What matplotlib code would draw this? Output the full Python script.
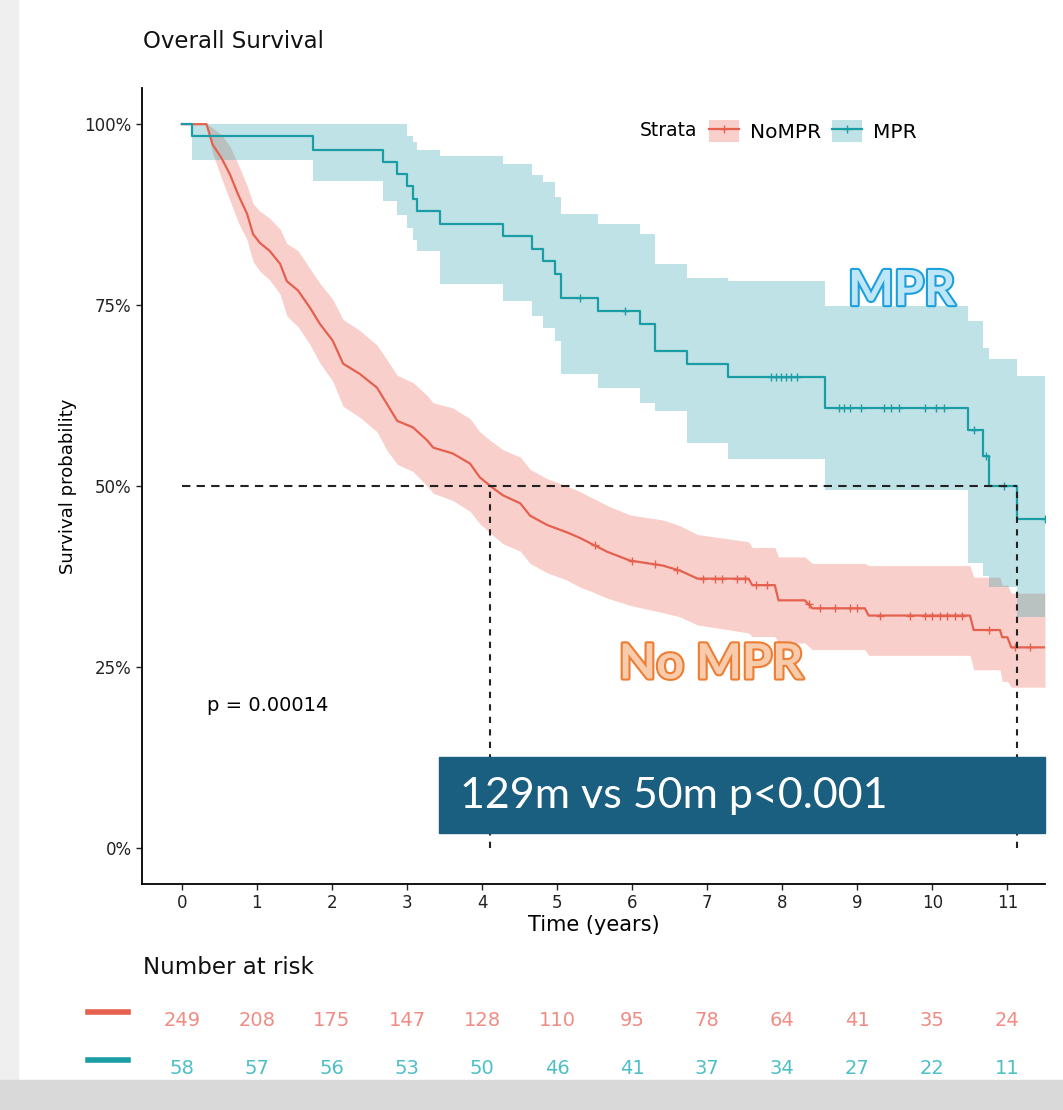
import numpy as np
import matplotlib
matplotlib.use("Agg")
import matplotlib.pyplot as plt
import matplotlib.transforms as mtrans
import matplotlib.patheffects as pe
from matplotlib.patches import Patch, Rectangle
from matplotlib.lines import Line2D
from matplotlib.legend_handler import HandlerTuple

plt.rcParams["font.family"] = ["DejaVu Sans"]

# ─── data ─────────────────────────────────────────────────────────────────────
T_END = 11.5

# MPR: event times (years), survival (%), 95% CI  (drawn as steps)
mpr_t  = [0, 0.13, 1.75, 2.68, 2.87, 3.0, 3.08, 3.13, 3.44, 4.28, 4.67, 4.81,
          4.97, 5.05, 5.55, 6.1, 6.3, 6.73, 7.28, 8.57, 10.47, 10.68, 10.76, 11.13]
mpr_s  = [100, 98.3, 96.5, 94.8, 93.1, 91.4, 89.7, 88.0, 86.2, 84.5, 82.8, 81.1,
          79.3, 76.0, 74.2, 72.4, 68.7, 66.9, 65.1, 60.8, 57.7, 54.1, 50.0, 45.5]
mpr_lo = [100, 95.0, 92.1, 89.4, 87.5, 85.7, 84.0, 82.5, 77.9, 75.6, 73.5, 71.9,
          70.1, 65.5, 63.6, 61.5, 60.4, 55.9, 53.8, 49.4, 39.3, 37.5, 36.0, 31.9]
mpr_hi = [100, 100, 100, 100, 100, 98.3, 97.5, 96.5, 95.6, 94.5, 93.0, 92.0,
          90.0, 87.6, 86.2, 84.8, 80.7, 78.8, 78.3, 74.9, 72.8, 69.1, 67.5, 65.2]
mpr_cens = [5.3, 5.9, 7.85, 7.92, 7.98, 8.05, 8.12, 8.2, 8.75, 8.82, 8.9,
            9.05, 9.35, 9.45, 9.55, 9.9, 10.05, 10.15, 10.55, 10.72, 10.95, 11.5]

# NoMPR: many small steps, traced as a polyline (time, survival %, 95% CI)
nompr_t  = [0, 0.33, 0.41, 0.53, 0.64, 0.75, 0.87, 0.95, 1.04, 1.17,
            1.31, 1.40, 1.55, 1.71, 1.84, 2.01, 2.15, 2.37, 2.60, 2.73,
            2.87, 3.08, 3.27, 3.35, 3.61, 3.84, 3.97, 4.11, 4.28, 4.51,
            4.64, 4.87, 5.13, 5.31, 5.44, 5.67, 5.97, 6.41, 6.64, 6.87,
            7.55, 7.60, 7.90, 7.95, 8.30, 8.40, 9.10, 9.15, 10.50, 10.55,
            10.90, 10.93, 11.00, 11.05, 11.50]
nompr_s  = [100, 100, 97.2, 95.3, 93.1, 90.3, 87.6, 84.8, 83.6, 82.5,
            80.7, 78.3, 77.0, 74.6, 72.4, 70.1, 66.9, 65.5, 63.6, 61.4,
            59.0, 58.1, 56.3, 55.3, 54.5, 53.1, 51.2, 50.0, 48.7, 47.6,
            45.9, 44.6, 43.6, 42.8, 42.1, 40.9, 39.7, 39.0, 38.3, 37.2,
            37.2, 36.3, 36.3, 34.2, 34.2, 33.1, 33.1, 32.1, 32.1, 30.1,
            30.1, 29.1, 29.1, 27.7, 27.7]
nompr_lo = [100, 100, 96.0, 92.5, 89.5, 86.5, 84.0, 81.0, 79.7, 78.5,
            76.5, 73.5, 72.0, 69.5, 67.0, 64.5, 61.0, 59.5, 57.5, 55.0,
            53.0, 52.0, 50.0, 49.0, 48.0, 46.5, 44.8, 43.5, 42.0, 41.0,
            39.3, 38.0, 37.0, 36.0, 35.5, 34.5, 33.5, 32.5, 31.9, 30.8,
            29.7, 29.2, 29.2, 28.3, 28.3, 27.4, 27.4, 26.6, 26.6, 24.6,
            24.6, 23.0, 23.0, 22.2, 22.2]
nompr_hi = [100, 100, 99.5, 98.5, 97.0, 94.5, 91.5, 89.0, 88.0, 87.0,
            85.5, 83.5, 82.5, 80.0, 78.0, 75.8, 73.0, 71.5, 69.5, 67.5,
            65.3, 64.3, 62.5, 61.5, 60.8, 59.3, 57.5, 56.3, 55.0, 54.0,
            52.3, 51.0, 50.0, 49.2, 48.5, 47.3, 46.0, 45.3, 44.5, 43.3,
            42.3, 41.5, 41.5, 40.2, 40.2, 39.3, 39.3, 39.0, 39.0, 37.4,
            37.4, 36.3, 36.3, 35.2, 35.2]
nompr_cens = [5.5, 6.0, 6.3, 6.6, 6.95, 7.1, 7.2, 7.4, 7.5, 7.65, 7.8, 8.35,
              8.5, 8.7, 8.9, 9.0, 9.3, 9.7, 9.9, 10.0, 10.1, 10.2, 10.3, 10.4,
              10.75, 11.1, 11.3]

medians = [4.1, 11.13]   # NoMPR, MPR (years)
risk_times = list(range(12))
risk_nompr = [249, 208, 175, 147, 128, 110, 95, 78, 64, 41, 35, 24]
risk_mpr   = [58, 57, 56, 53, 50, 46, 41, 37, 34, 27, 22, 11]

RED, TEAL = "#E5604F", "#1A9DA5"
RED_FILL, TEAL_FILL = "#EB6350", "#2DA2AF"
RED_TXT, TEAL_TXT = "#F08C84", "#4FBFC6"

W, H = 1063, 1110
fig = plt.figure(figsize=(W / 100, H / 100), dpi=100)

# slide background strips
fig.patches.append(Rectangle((0, 0), 18 / W, 1, transform=fig.transFigure,
                             color="#EFEFEF", zorder=-5))
fig.patches.append(Rectangle((0, 0), 1, 30 / H, transform=fig.transFigure,
                             color="#D9D9D9", zorder=-5))

ax = fig.add_axes([142 / W, 1 - 884 / H, (1045 - 142) / W, (884 - 88) / H])

# NoMPR (traced polyline)
ax.fill_between(nompr_t, nompr_lo, nompr_hi, color=RED_FILL, alpha=0.3, lw=0)
ax.plot(nompr_t, nompr_s, color=RED, lw=1.6)
ax.plot(nompr_cens, np.interp(nompr_cens, nompr_t, nompr_s), ls="none",
        marker="+", ms=6, mew=1.0, color=RED)

# MPR (step function)
tt = mpr_t + [T_END]
ax.fill_between(tt, mpr_lo + mpr_lo[-1:], mpr_hi + mpr_hi[-1:], step="post",
                color=TEAL_FILL, alpha=0.3, lw=0)
ax.step(tt, mpr_s + mpr_s[-1:], where="post", color=TEAL, lw=1.6)
idx = np.searchsorted(mpr_t, mpr_cens, side="right") - 1
ax.plot(mpr_cens, np.asarray(mpr_s)[idx], ls="none", marker="+", ms=6,
        mew=1.0, color=TEAL)

# median lines
ax.hlines(50, 0, medians[1], colors="#222222", lw=1.5, ls=(0, (4, 3)), zorder=4)
ax.vlines(medians, 0, 50, colors="#222222", lw=1.5, ls=(0, (3, 3)), zorder=4)

ax.set_xlim(-0.53, 11.5)
ax.set_ylim(-5, 105)
ax.set_xticks(risk_times)
ax.set_yticks([0, 25, 50, 75, 100])
ax.set_yticklabels(["0%", "25%", "50%", "75%", "100%"])
ax.tick_params(labelsize=12, length=4, width=1, colors="#222222",
               labelcolor="#222222")
for sp in ["top", "right"]:
    ax.spines[sp].set_visible(False)
for sp in ["left", "bottom"]:
    ax.spines[sp].set_linewidth(1.3)
ax.set_xlabel("Time (years)", fontsize=15, labelpad=2)
ax.set_ylabel("Survival probability", fontsize=13, labelpad=5)

fig.text(143 / W, 1 - 42 / H, "Overall Survival", fontsize=16.5, va="center",
         ha="left", color="#111111")

# legend
ax.text(0.5515, 0.946, "Strata", transform=ax.transAxes, fontsize=13.5,
        va="center", ha="left")
h_no = (Patch(facecolor=RED_FILL, alpha=0.3, edgecolor="none"),
        Line2D([], [], color=RED, lw=1.6, marker="+", ms=6))
h_mp = (Patch(facecolor=TEAL_FILL, alpha=0.3, edgecolor="none"),
        Line2D([], [], color=TEAL, lw=1.6, marker="+", ms=6))
ax.legend([h_no, h_mp], ["NoMPR", "MPR"],
          handler_map={tuple: HandlerTuple(ndivide=1)}, ncol=2, frameon=False,
          loc="center left", bbox_to_anchor=(0.628, 0.946), borderaxespad=0,
          borderpad=0, handlelength=1.5, handleheight=1.3, handletextpad=0.55,
          columnspacing=0.5, fontsize=14.5)

ax.text(0.33, 19.7, "p = 0.00014", fontsize=14, va="center", ha="left")

# slide annotations
ax.text(9.59, 77, "MPR", fontsize=35, fontweight="bold", family="Lato",
        color="#BFE6F7", ha="center", va="center",
        path_effects=[pe.withStroke(linewidth=3, foreground="#1AA0DC")])
ax.text(7.05, 25.4, "No MPR", fontsize=35, fontweight="bold", family="Lato",
        color="#F8CBAD", ha="center", va="center",
        path_effects=[pe.withStroke(linewidth=3, foreground="#ED7D31")])

fig.patches.append(Rectangle((439 / W, 1 - 833 / H), 606 / W, 76 / H,
                             transform=fig.transFigure, color="#1A5E80",
                             zorder=10))
fig.text(460 / W, 1 - 796 / H, "129m vs 50m p<0.001", fontsize=31,
         family="Lato", color="white", ha="left", va="center", zorder=11)

# number at risk table
fig.text(143 / W, 1 - 968 / H, "Number at risk", fontsize=16.5, va="center",
         ha="left", color="#111111")
bt = mtrans.blended_transform_factory(ax.transData, fig.transFigure)
for vals, col, dcol, yrow, ydash in [
    (risk_nompr, RED_TXT, RED, 1020, 1012),
    (risk_mpr, TEAL_TXT, TEAL, 1068, 1060),
]:
    for x, v in zip(risk_times, vals):
        ax.text(x, 1 - yrow / H, str(v), transform=bt, fontsize=14,
                color=col, ha="center", va="center", clip_on=False)
    ax.add_line(Line2D([-1.25, -0.72], [1 - ydash / H] * 2, transform=bt,
                       color=dcol, lw=4, clip_on=False))

fig.savefig("out.png", dpi=100)
